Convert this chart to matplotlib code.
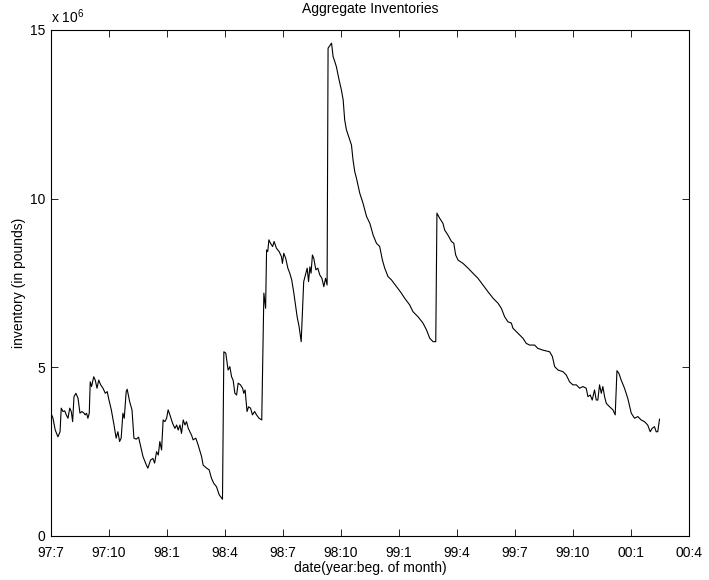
import matplotlib
matplotlib.use('Agg')
import matplotlib.pyplot as plt
import numpy as np

plt.rcParams['font.family'] = ['Liberation Sans', 'DejaVu Sans']
plt.rcParams['mathtext.fontset'] = 'custom'
plt.rcParams['mathtext.rm'] = 'Liberation Sans'

# meses desde jul/97 e inventario (milhoes de libras)
meses = [0.00, 0.10, 0.22, 0.36, 0.47, 0.53, 0.62, 0.71, 0.79, 0.88, 0.97, 1.05, 1.12,
         1.19, 1.29, 1.40, 1.50, 1.60, 1.71, 1.77, 1.84, 1.91, 1.98, 2.03, 2.10, 2.21,
         2.29, 2.38, 2.47, 2.57, 2.69, 2.81, 2.91, 2.98, 3.12, 3.26, 3.37, 3.46, 3.55,
         3.63, 3.72, 3.79, 3.89, 3.94, 4.07, 4.19, 4.29, 4.41, 4.53, 4.64, 4.76, 4.93,
         5.01, 5.15, 5.27, 5.36, 5.46, 5.55, 5.63, 5.72, 5.80, 5.89, 5.98, 6.06, 6.15,
         6.29, 6.41, 6.50, 6.58, 6.67, 6.75, 6.84, 6.93, 7.01, 7.10, 7.27, 7.35, 7.49,
         7.61, 7.79, 7.87, 8.05, 8.18, 8.30, 8.42, 8.56, 8.70, 8.87, 8.94, 9.04, 9.16,
         9.25, 9.34, 9.42, 9.51, 9.60, 9.68, 9.80, 9.91, 9.97, 10.04, 10.14, 10.22,
         10.32, 10.42, 10.53, 10.63, 10.76, 10.90, 11.01, 11.10, 11.15, 11.21, 11.27,
         11.35, 11.46, 11.54, 11.66, 11.80, 11.92, 11.97, 12.04, 12.14, 12.25, 12.35,
         12.45, 12.56, 12.66, 12.73, 12.83, 12.94, 13.01, 13.07, 13.18, 13.25, 13.32,
         13.39, 13.45, 13.52, 13.59, 13.70, 13.80, 13.90, 14.01, 14.11, 14.20, 14.28,
         14.33, 14.51, 14.59, 14.68, 14.76, 14.90, 15.02, 15.11, 15.19, 15.28, 15.45,
         15.54, 15.62, 15.71, 15.80, 15.97, 16.14, 16.32, 16.49, 16.66, 16.83, 17.00,
         17.14, 17.26, 17.43, 17.61, 17.87, 18.12, 18.29, 18.55, 18.72, 18.98, 19.24,
         19.42, 19.59, 19.76, 19.90, 19.96, 20.10, 20.27, 20.36, 20.53, 20.71, 20.83,
         20.93, 21.05, 21.31, 21.57, 21.82, 22.08, 22.34, 22.60, 22.86, 23.12, 23.29,
         23.46, 23.63, 23.81, 23.89, 24.15, 24.41, 24.58, 24.75, 25.01, 25.18, 25.44,
         25.79, 25.93, 26.05, 26.22, 26.48, 26.65, 26.82, 26.99, 27.17, 27.34, 27.51,
         27.68, 27.77, 27.89, 27.99, 28.11, 28.20, 28.28, 28.37, 28.46, 28.54, 28.63,
         28.72, 28.89, 29.06, 29.18, 29.27, 29.37, 29.49, 29.66, 29.83, 30.01, 30.18,
         30.35, 30.52, 30.69, 30.86, 30.99, 31.09, 31.21, 31.30, 31.38, 31.47]

inventario = [3.64, 3.50, 3.14, 2.94, 3.09, 3.79, 3.69, 3.71, 3.59, 3.49, 3.79, 3.69, 3.39,
              4.13, 4.23, 4.08, 3.64, 3.69, 3.64, 3.59, 3.64, 3.49, 3.64, 4.57, 4.43, 4.72,
              4.62, 4.38, 4.62, 4.48, 4.38, 4.23, 4.28, 4.08, 3.74, 3.29, 2.90, 3.09, 2.80,
              2.90, 3.64, 3.49, 4.28, 4.35, 3.98, 3.74, 2.90, 2.87, 2.93, 2.65, 2.35, 2.11,
              2.01, 2.25, 2.30, 2.16, 2.50, 2.40, 2.80, 2.55, 3.44, 3.39, 3.49, 3.74, 3.59,
              3.34, 3.19, 3.29, 3.14, 3.29, 3.04, 3.44, 3.29, 3.39, 3.19, 2.99, 2.85, 2.90,
              2.70, 2.35, 2.10, 2.01, 1.96, 1.71, 1.56, 1.46, 1.22, 1.09, 5.46, 5.42, 4.92,
              5.02, 4.72, 4.62, 4.23, 4.18, 4.53, 4.48, 4.38, 4.23, 4.33, 3.69, 3.83,
              3.79, 3.59, 3.69, 3.59, 3.49, 3.44, 7.20, 6.75, 8.48, 8.43, 8.78,
              8.68, 8.58, 8.73, 8.53, 8.43, 8.28, 8.08, 8.38, 8.23, 7.94, 7.79,
              7.59, 7.20, 6.80, 6.50, 6.21, 5.76, 6.75, 7.54, 7.79, 7.94, 7.54,
              7.98, 7.79, 8.33, 8.23, 7.89, 7.94, 7.74, 7.64, 7.39, 7.64, 7.44,
              14.46, 14.61, 14.21, 14.06, 13.91, 13.52, 13.22, 12.93, 12.33, 12.04, 11.74,
              11.59, 11.15, 10.80, 10.60, 10.16, 9.86, 9.47, 9.27, 8.92, 8.68, 8.58,
              8.18, 7.94, 7.69, 7.59, 7.39, 7.20, 7.05, 6.85, 6.65, 6.50, 6.31,
              6.11, 5.86, 5.76, 5.76, 9.57, 9.42, 9.27, 9.07, 8.92, 8.73, 8.68,
              8.33, 8.18, 8.08, 7.94, 7.79, 7.64, 7.44, 7.24, 7.05, 6.90, 6.75,
              6.50, 6.35, 6.31, 6.16, 6.01, 5.86, 5.71, 5.66, 5.66, 5.56, 5.51,
              5.46, 5.32, 5.02, 4.92, 4.87, 4.77, 4.57, 4.48, 4.48, 4.38, 4.43,
              4.38, 4.13, 4.18, 4.03, 4.33, 4.03, 4.03, 4.48, 4.23, 4.43, 4.13,
              3.93, 3.83, 3.74, 3.59, 4.90, 4.82, 4.62, 4.38, 4.08, 3.64, 3.49,
              3.54, 3.44, 3.39, 3.29, 3.09, 3.19, 3.24, 3.09, 3.09, 3.46]

rotulos_x = ['97:7', '97:10', '98:1', '98:4', '98:7', '98:10', '99:1', '99:4',
             '99:7', '99:10', '00:1', '00:4']
ticks_y = [0, 5, 10, 15]

fig = plt.figure(figsize=(7.09, 5.80), dpi=100)
ax = fig.add_axes([0.0719, 0.0759, 0.900, 0.8724])

ax.plot(meses, np.array(inventario) * 1e6, color='black', lw=0.8)

ax.set_xlim(0, 33)
ax.set_ylim(0, 15e6)
ax.set_xticks(np.arange(0, 34, 3))
ax.set_xticklabels(rotulos_x)
ax.set_yticks(np.array(ticks_y) * 1e6)
ax.set_yticklabels([str(t) for t in ticks_y])

ax.tick_params(direction='in', length=5, width=0.6, top=True, right=True,
               labelsize=10)
ax.tick_params(axis='x', pad=7)
ax.tick_params(axis='y', pad=4)
for s in ax.spines.values():
    s.set_linewidth(0.8)

ax.text(0.0, 1.008, r'x 10$^6$', transform=ax.transAxes, fontsize=10,
        ha='left', va='bottom')
ax.set_title('Aggregate Inventories', fontsize=10, pad=12)
ax.set_xlabel('date(year:beg. of month)', fontsize=10, labelpad=1)
ax.set_ylabel('inventory (in pounds)', fontsize=10, labelpad=3)

fig.savefig('out.png', dpi=100)
